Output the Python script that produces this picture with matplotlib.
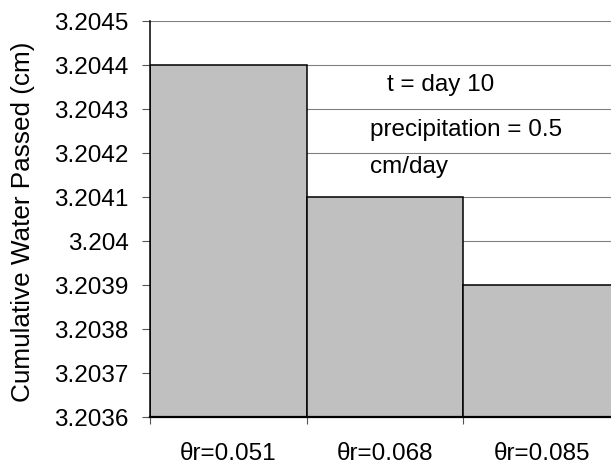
import matplotlib
matplotlib.use("Agg")
import matplotlib.pyplot as plt
from matplotlib.ticker import FuncFormatter, FixedLocator

# Cumulative water passed at day 10 for three residual water contents
categories = ["θr=0.051", "θr=0.068", "θr=0.085"]
values = [3.2044, 3.2041, 3.2039]
y_min, y_max, y_step = 3.2036, 3.2045, 0.0001
annotations = ["t = day 10", "precipitation = 0.5", "cm/day"]

plt.rcParams["font.family"] = ["Liberation Sans", "DejaVu Sans"]
FS = 17.5

fig = plt.figure(figsize=(6.11, 4.66), dpi=100)
W, H = 611, 466
ax = fig.add_axes([150 / W, 1 - 417 / H, (620 - 150) / W, (417 - 21) / H])

x = list(range(len(categories)))
heights = [v - y_min for v in values]
ax.bar(x, heights, bottom=y_min, width=1.0, color="#c0c0c0",
       edgecolor="black", linewidth=1.1, zorder=2)

ax.set_xlim(-0.5, len(categories) - 0.5)
ax.set_ylim(y_min, y_max)

n = int(round((y_max - y_min) / y_step))
yticks = [y_min + i * y_step for i in range(n + 1)]
ax.yaxis.set_major_locator(FixedLocator(yticks))
ax.yaxis.set_major_formatter(
    FuncFormatter(lambda v, p: f"{v:.4f}".rstrip("0").rstrip(".")))
ax.grid(axis="y", color="#808080", linewidth=0.8, zorder=0)
ax.set_axisbelow(True)

# category boundaries carry the tick marks, centres carry the labels
ax.set_xticks([i - 0.5 for i in range(len(categories) + 1)])
ax.set_xticklabels([])
ax.set_xticks(x, minor=True)
ax.set_xticklabels(categories, minor=True, fontsize=FS)
ax.tick_params(axis="x", which="minor", length=0, pad=19)
ax.tick_params(axis="x", which="major", length=5, width=0.8, color="#555555")
ax.tick_params(axis="y", length=5.5, width=0.8, color="#555555",
               labelsize=FS, pad=10)

for s in ["top", "right"]:
    ax.spines[s].set_visible(False)
ax.spines["left"].set_linewidth(1.1)
ax.spines["bottom"].set_linewidth(1.6)

fig.text(23 / W, 1 - 222 / H, "Cumulative Water Passed (cm)", fontsize=18.8,
         rotation=90, ha="center", va="center")

fig.text(387 / W, 1 - 85 / H, annotations[0], fontsize=FS, va="center")
fig.text(370 / W, 1 - 130 / H, annotations[1], fontsize=FS, va="center")
fig.text(370 / W, 1 - 167 / H, annotations[2], fontsize=FS, va="center")

fig.savefig("out.png", dpi=100)
